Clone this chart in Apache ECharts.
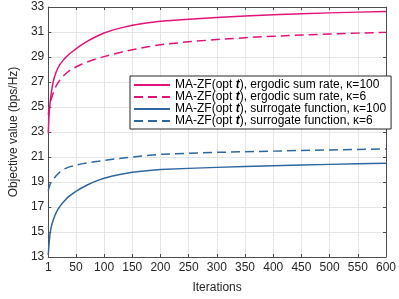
<!DOCTYPE html>
<html>
<head>
<meta charset="utf-8">
<script src="https://cdn.jsdelivr.net/npm/echarts@6/dist/echarts.min.js"></script>
<style>html,body{margin:0;padding:0;background:#fff}#c{width:399px;height:299px}</style>
</head>
<body>
<div id="c"></div>
<script>
var iterations   = [1,2,3,4,5,6,8,10,12,15,18,22,26,30,35,40,50,60,70,80,90,100,115,130,150,175,200,250,300,350,400,450,500,550,600];
var ergodic100   = [22.9,24.0,24.75,25.25,25.65,26.0,26.6,27.05,27.4,27.8,28.1,28.43,28.65,28.87,29.1,29.3,29.65,29.97,30.25,30.5,30.72,30.92,31.15,31.33,31.54,31.72,31.86,32.02,32.16,32.28,32.38,32.46,32.53,32.59,32.64];
var ergodic6     = [24.4,24.7,24.95,25.2,25.4,25.58,25.88,26.15,26.38,26.68,26.92,27.18,27.4,27.58,27.78,27.95,28.2,28.42,28.6,28.76,28.9,29.03,29.22,29.38,29.58,29.8,29.98,30.22,30.4,30.54,30.66,30.76,30.84,30.91,30.97];
var surrogate100 = [13.15,13.8,14.35,14.8,15.1,15.35,15.7,15.98,16.22,16.55,16.8,17.07,17.3,17.5,17.75,17.93,18.25,18.52,18.76,18.97,19.15,19.3,19.48,19.62,19.78,19.9,20.0,20.09,20.17,20.24,20.3,20.36,20.41,20.46,20.5];
var surrogate6   = [18.3,18.5,18.65,18.78,18.88,18.97,19.1,19.2,19.32,19.5,19.65,19.82,19.95,20.05,20.15,20.23,20.35,20.45,20.53,20.6,20.66,20.73,20.82,20.9,21.0,21.12,21.21,21.3,21.37,21.42,21.47,21.52,21.56,21.6,21.64];
var seriesNames = [
  'MA-ZF(opt t), ergodic sum rate, κ=100',
  'MA-ZF(opt t), ergodic sum rate, κ=6',
  'MA-ZF(opt t), surrogate function, κ=100',
  'MA-ZF(opt t), surrogate function, κ=6'
];
var xTicks = [1,50,100,150,200,250,300,350,400,450,500,550,600];

var PINK = '#e01478', BLUE = '#2e67a0';
var FONT = '"Liberation Sans", Arial, Helvetica, sans-serif';
var TXT = '#262626', AX = '#4d4d4d';

function pairs(ys){ return iterations.map(function(x,i){ return [x, ys[i]]; }); }
function mk(name, ys, color, dashed){
  return {
    type:'line', name:name, data:pairs(ys), symbol:'none', smooth:false,
    xAxisIndex:0, yAxisIndex:0,
    lineStyle:{color:color, width:1.5, type: dashed ? [9,5] : 'solid'},
    itemStyle:{color:color}
  };
}

var chart = echarts.init(document.getElementById('c'), null, {renderer:'canvas'});
chart.setOption({
  animation:false,
  backgroundColor:'#fff',
  textStyle:{fontFamily:FONT},
  grid:{left:35, right:11, top:7, bottom:32.5, containLabel:false},
  legend:{
    orient:'vertical', left:130, top:76,
    data:seriesNames,
    backgroundColor:'#fff', borderColor:'#262626', borderWidth:1,
    padding:[3,5,2,3],
    itemWidth:36, itemHeight:14, itemGap:0,
    itemStyle:{opacity:0},
    textStyle:{fontFamily:FONT, fontSize:12, color:'#000',
      rich:{
        n:{fontFamily:FONT, fontSize:12, color:'#000'},
        b:{fontFamily:FONT, fontSize:12, color:'#000', fontWeight:'bold', fontStyle:'italic'}
      }},
    formatter:function(name){
      return '{n|' + name.replace('opt t)', 'opt }{b|t}{n|)') + '}';
    }
  },
  xAxis:[{
    type:'value', min:1, max:600,
    name:'Iterations', nameLocation:'middle', nameGap:25,
    nameTextStyle:{fontFamily:FONT, fontSize:12, color:TXT},
    axisLine:{show:true, onZero:false, lineStyle:{color:AX, width:1}},
    axisTick:{show:true, inside:true, length:3, customValues:xTicks, lineStyle:{color:AX}},
    axisLabel:{customValues:xTicks, margin:5, fontFamily:FONT, fontSize:12, color:TXT},
    splitLine:{show:true, lineStyle:{color:'#e6e6e6', width:1}}
  },{
    type:'value', min:1, max:600, position:'top',
    axisLine:{show:true, onZero:false, lineStyle:{color:AX, width:1}},
    axisTick:{show:true, inside:true, length:3, customValues:xTicks, lineStyle:{color:AX}},
    axisLabel:{show:false}, splitLine:{show:false}
  }],
  yAxis:[{
    type:'value', min:13, max:33, interval:2,
    name:'Objective value (bps/Hz)', nameLocation:'middle', nameGap:23,
    nameTextStyle:{fontFamily:FONT, fontSize:12, color:TXT},
    axisLine:{show:true, onZero:false, lineStyle:{color:AX, width:1}},
    axisTick:{show:true, inside:true, length:3, lineStyle:{color:AX}},
    axisLabel:{margin:4, fontFamily:FONT, fontSize:12, color:TXT},
    splitLine:{show:true, lineStyle:{color:'#e6e6e6', width:1}}
  },{
    type:'value', min:13, max:33, interval:2, position:'right',
    axisLine:{show:true, onZero:false, lineStyle:{color:AX, width:1}},
    axisTick:{show:true, inside:true, length:3, lineStyle:{color:AX}},
    axisLabel:{show:false}, splitLine:{show:false}
  }],
  series:[
    mk(seriesNames[0], ergodic100, PINK, false),
    mk(seriesNames[1], ergodic6, PINK, true),
    mk(seriesNames[2], surrogate100, BLUE, false),
    mk(seriesNames[3], surrogate6, BLUE, true)
  ]
});
</script>
</body>
</html>
